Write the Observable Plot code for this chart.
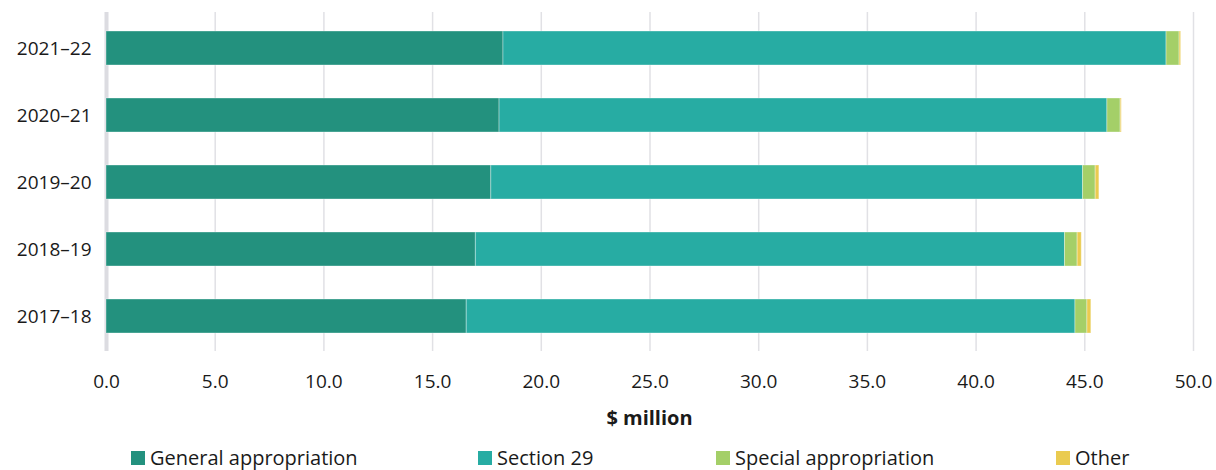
<!DOCTYPE html>
<html>
<head>
<meta charset="utf-8">
<script src="https://cdn.jsdelivr.net/npm/d3@7"></script>
<script src="https://cdn.jsdelivr.net/npm/@observablehq/plot@0.6"></script>
<style>
  body { margin: 0; background: #fff; font-family: "Open Sans", "Noto Sans", sans-serif; color: #1a1a1a; }
  #wrap { position: relative; width: 1216px; height: 470px; overflow: hidden; }
  #chart { position: absolute; left: 0; top: 0; }
  #xlabel { position: absolute; left: 106px; width: 1087px; top: 404px; text-align: center; font-weight: bold; font-size: 20px; line-height: 27px; }
  #legend { position: absolute; left: 131px; top: 444px; display: flex; font-size: 20px; line-height: 27px; white-space: nowrap; }
  #legend .item { display: flex; align-items: center; }
  #legend .item:nth-child(1) { width: 347px; }
  #legend .item:nth-child(2) { width: 238px; }
  #legend .item:nth-child(3) { width: 340px; }
  #legend .sw { width: 14px; height: 14px; margin-right: 5px; flex: none; }
</style>
</head>
<body>
<div id="wrap">
  <div id="chart"></div>
  <div id="xlabel"></div>
  <div id="legend"></div>
</div>
<script>
// ---- data ----
const years = ["2021–22", "2020–21", "2019–20", "2018–19", "2017–18"];
const seriesNames = ["General appropriation", "Section 29", "Special appropriation", "Other"];
const seriesColors = ["#23917e", "#27aca3", "#a4cf68", "#eacb50"];
const generalAppropriation = [18.26, 18.08, 17.70, 16.99, 16.57];
const section29 = [30.50, 27.96, 27.22, 27.10, 28.00];
const specialAppropriation = [0.60, 0.61, 0.58, 0.58, 0.55];
const other = [0.07, 0.05, 0.17, 0.19, 0.18];
const xTicks = [0, 5, 10, 15, 20, 25, 30, 35, 40, 45, 50];
const xLabel = "$ million";

const seriesValues = [generalAppropriation, section29, specialAppropriation, other];
const rows = [];
years.forEach((yr, i) => {
  seriesNames.forEach((s, j) => rows.push({year: yr, series: s, value: seriesValues[j][i]}));
});

const chart = Plot.plot({
  width: 1216,
  height: 400,
  marginTop: 12,
  marginBottom: 49,
  marginLeft: 106,
  marginRight: 23,
  style: {fontFamily: "'Open Sans', 'Noto Sans', sans-serif", fontSize: "19px", color: "#1a1a1a", background: "#fff"},
  x: {domain: [0, 50], ticks: xTicks, tickFormat: d3.format(".1f"), tickSize: 0, tickPadding: 23, label: null},
  y: {domain: years, paddingInner: 0.5, paddingOuter: 0.25, tickSize: 0, tickPadding: 15, label: null},
  color: {domain: seriesNames, range: seriesColors},
  marks: [
    Plot.ruleX(xTicks.slice(1), {stroke: "#e1e1e5", strokeWidth: 1.5}),
    Plot.ruleX([0], {stroke: "#dcdce1", strokeWidth: 4}),
    Plot.barX(rows, Plot.stackX({x: "value", y: "year", fill: "series", order: seriesNames, stroke: "#ffffff", strokeOpacity: 0.35, strokeWidth: 1})),
  ]
});
document.getElementById("chart").appendChild(chart);

document.getElementById("xlabel").textContent = xLabel;
const legend = document.getElementById("legend");
seriesNames.forEach((s, j) => {
  const item = document.createElement("div");
  item.className = "item";
  const sw = document.createElement("span");
  sw.className = "sw";
  sw.style.background = seriesColors[j];
  const t = document.createElement("span");
  t.textContent = s;
  item.appendChild(sw);
  item.appendChild(t);
  legend.appendChild(item);
});
</script>
</body>
</html>
